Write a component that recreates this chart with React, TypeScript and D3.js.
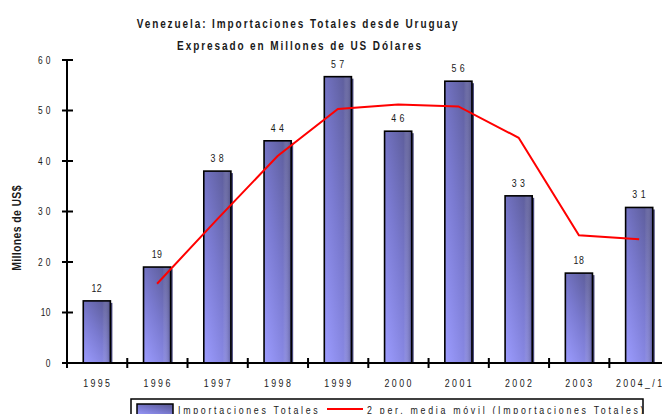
import React from 'react';
import * as d3 from 'd3';

// Data
const years = ['1995', '1996', '1997', '1998', '1999', '2000', '2001', '2002', '2003', '2004_/1'];
const imports = [12.3, 19.0, 38.0, 44.0, 56.7, 45.9, 55.8, 33.1, 17.8, 30.8];
const barLabels = ['12', '19', '3 8', '4 4', '5 7', '4 6', '5 6', '3 3', '18', '3 1'];
const movingAvg: (number | null)[] = [null, 15.7, 28.5, 41.0, 50.3, 51.2, 50.8, 44.6, 25.3, 24.5];
const yTicks = [0, 10, 20, 30, 40, 50, 60];
const yTickLabels = ['0', '10', '2 0', '3 0', '4 0', '5 0', '6 0'];

const FONT = '"Liberation Sans", Arial, sans-serif';
const SX = 0.8; // the reference uses a condensed face

interface NTextProps {
  x: number;
  y: number;
  rotate?: number;
  anchor?: 'start' | 'middle' | 'end';
  size: number;
  ls?: number;
  bold?: boolean;
  children: React.ReactNode;
}

// condensed text: squeeze horizontally since no narrow font is installed
const NText: React.FC<NTextProps> = ({ x, y, rotate = 0, anchor = 'start', size, ls = 0, bold, children }) => (
  <text
    transform={`translate(${x},${y}) rotate(${rotate}) scale(${SX},1)`}
    textAnchor={anchor}
    fontSize={size}
    fontWeight={bold ? 'bold' : 'normal'}
    letterSpacing={ls}
    fill="#1a1a1a"
  >
    {children}
  </text>
);

const App: React.FC = () => {
  const width = 662;
  const height = 414;
  const left = 67;
  const bottom = 363;
  const top = 60;

  const x = d3.scaleBand<string>()
    .domain(years)
    .range([left, left + 602])
    .paddingInner(0.55)
    .paddingOuter(0.27);

  const y = d3.scaleLinear().domain([0, 60]).range([bottom, top]);

  const step = x.step();
  const bandStart = (i: number) => left + i * step;
  const center = (d: string) => (x(d) ?? 0) + x.bandwidth() / 2;

  const line = d3.line<[string, number | null]>()
    .defined((d) => d[1] !== null)
    .x((d) => center(d[0]))
    .y((d) => y(d[1] as number));

  const linePath = line(years.map((yr, i) => [yr, movingAvg[i]])) ?? '';

  return (
    <svg
      width={width}
      height={height}
      style={{ position: 'absolute', left: 0, top: 0, background: '#fff' }}
      fontFamily={FONT}
    >
      <defs>
        <linearGradient id="barFill" x1="0" y1="1" x2="0.7" y2="0">
          <stop offset="0%" stopColor="#9c9cff" />
          <stop offset="55%" stopColor="#7a7ad0" />
          <stop offset="100%" stopColor="#5f5f9e" />
        </linearGradient>
        <linearGradient id="barSide" x1="0" y1="0" x2="1" y2="0">
          <stop offset="0%" stopColor="#ffffff" stopOpacity="0" />
          <stop offset="70%" stopColor="#ffffff" stopOpacity="0" />
          <stop offset="100%" stopColor="#3a3a70" stopOpacity="0.45" />
        </linearGradient>
      </defs>

      {/* Title */}
      <NText x={298} y={28} anchor="middle" size={12.5} ls={2.4} bold>
        Venezuela: Importaciones Totales desde Uruguay
      </NText>
      <NText x={300} y={50} anchor="middle" size={12.5} ls={2.4} bold>
        Expresado en Millones de US Dólares
      </NText>

      {/* Y axis title */}
      <NText x={21} y={228} rotate={-90} anchor="middle" size={13} ls={0.5} bold>
        Millones de US$
      </NText>

      {/* Bars */}
      {years.map((yr, i) => {
        const bx = x(yr) ?? 0;
        const by = y(imports[i]);
        const bh = bottom - by;
        return (
          <g key={yr}>
            <rect x={bx + 2} y={by + 2} width={x.bandwidth()} height={bh - 2} fill="#45457a" />
            <rect x={bx} y={by} width={x.bandwidth()} height={bh} fill="url(#barFill)" />
            <rect x={bx} y={by} width={x.bandwidth()} height={bh} fill="url(#barSide)" stroke="#000" strokeWidth={1.6} />
            <NText x={center(yr)} y={by - 9} anchor="middle" size={11} ls={0.6}>
              {barLabels[i]}
            </NText>
          </g>
        );
      })}

      {/* Moving average */}
      <path d={linePath} fill="none" stroke="#ff0000" strokeWidth={2} />

      {/* Axes */}
      <line x1={left} x2={left} y1={top} y2={bottom + 5} stroke="#000" strokeWidth={2} />
      <line x1={left - 5} x2={width} y1={bottom} y2={bottom} stroke="#000" strokeWidth={2} />
      {yTicks.map((t, i) => (
        <g key={t}>
          <line x1={left - 5} x2={left + 6} y1={y(t)} y2={y(t)} stroke="#000" strokeWidth={2} />
          <NText x={51} y={y(t) + 3.5} anchor="end" size={10.5} ls={0.6}>
            {yTickLabels[i]}
          </NText>
        </g>
      ))}
      {years.map((yr, i) => (
        <g key={yr}>
          <line x1={bandStart(i + 1)} x2={bandStart(i + 1)} y1={bottom - 5} y2={bottom + 5} stroke="#000" strokeWidth={2} />
          <NText x={center(yr) + 1} y={387} anchor="middle" size={11} ls={3}>
            {yr}
          </NText>
        </g>
      ))}

      {/* Legend */}
      <rect x={131} y={399} width={512} height={30} fill="#fff" stroke="#000" strokeWidth={1.5} />
      <rect x={137} y={404} width={36} height={12} fill="url(#barFill)" stroke="#000" strokeWidth={1.5} />
      <NText x={178} y={414} size={11} ls={3.4}>
        Importaciones Totales
      </NText>
      <line x1={327} x2={363} y1={409} y2={409} stroke="#ff0000" strokeWidth={2} />
      <NText x={367} y={414} size={11} ls={3.4}>
        2 per. media móvil (Importaciones Totales)
      </NText>
    </svg>
  );
};

export default App;
